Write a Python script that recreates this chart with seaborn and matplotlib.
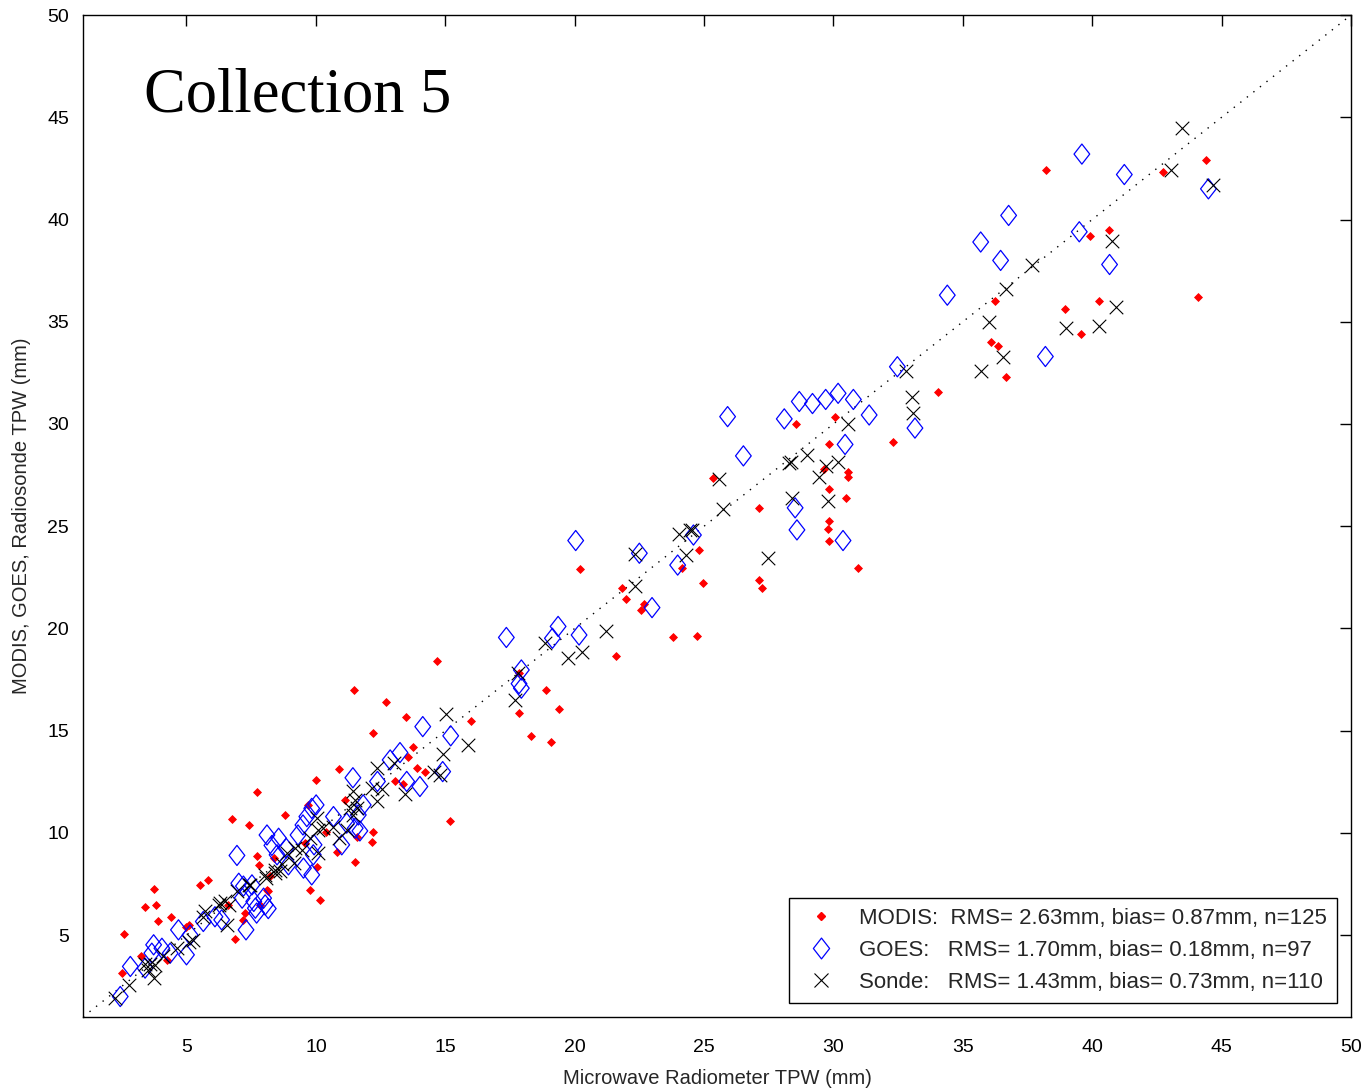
import numpy as np
import pandas as pd
import matplotlib
matplotlib.use("Agg")
import matplotlib.pyplot as plt
from matplotlib.path import Path
from matplotlib.lines import Line2D
import seaborn as sns

# ---------------- data ----------------
modis_x = [38.2, 44.4, 42.75, 39.9, 40.66, 36.24, 38.94, 40.25, 44.07, 39.56, 36.09, 36.35, 36.68, 34.05, 32.3,
           28.57, 30.05, 29.83, 29.64, 30.58, 30.58, 25.36, 29.83, 30.48, 27.13, 29.83, 29.8, 29.83, 30.95, 27.13,
           27.24, 24.95, 24.79, 24.15, 20.22, 21.84, 21.99, 22.67, 22.57, 21.58, 23.79, 24.73, 18.91, 19.38, 17.85,
           18.33, 19.1, 17.85, 14.69, 11.48, 12.7, 13.48, 15.98, 12.22, 10.91, 10.01, 13.76, 13.57, 13.89, 14.21,
           13.06, 13.38, 11.13, 9.68, 12.22, 15.18, 7.72, 6.76, 7.4, 8.82, 10.4, 12.16, 11.6, 10.81, 9.59, 10.04,
           9.78, 10.17, 11.52, 8.39, 7.72, 8.24, 8.11, 5.82, 5.54, 7.27, 7.85, 7.81, 3.73, 3.4, 3.83, 3.88, 4.39,
           2.57, 6.88, 7.17, 6.62, 5.11, 5.0, 3.24, 2.5, 4.24, 8.16]
modis_y = [42.4, 42.9, 42.3, 39.2, 39.5, 36.0, 35.6, 36.0, 36.2, 34.4, 34.0, 33.8, 32.3, 31.55, 29.1,
           30.0, 30.36, 29.0, 27.8, 27.64, 27.43, 27.38, 26.8, 26.37, 25.88, 25.28, 24.87, 24.28, 22.95, 22.37,
           21.97, 22.2, 23.84, 22.98, 22.9, 21.97, 21.43, 21.2, 20.88, 18.63, 19.56, 19.64, 16.97, 16.07, 15.86,
           14.75, 14.47, 17.8, 18.4, 17.0, 16.39, 15.66, 15.48, 14.88, 13.13, 12.6, 14.19, 13.7, 13.2, 12.96,
           12.55, 12.38, 11.62, 11.37, 10.07, 10.59, 12.0, 10.67, 10.39, 10.88, 10.04, 9.58, 9.79, 9.06, 9.5, 8.31,
           7.19, 6.73, 8.6, 8.77, 8.88, 7.87, 7.22, 7.7, 7.46, 6.08, 6.48, 8.41, 7.26, 6.4, 6.48, 5.67, 5.91,
           5.05, 4.82, 5.75, 6.48, 5.5, 5.42, 4.0, 3.14, 3.79, 7.14]

goes_x = [39.6, 41.24, 44.49, 36.77, 35.69, 36.46, 39.5, 40.67, 34.4, 38.19, 32.47, 33.15,
          25.91, 28.1, 28.68, 29.19, 29.7, 30.18, 30.77, 31.38, 30.45, 26.52, 28.52, 28.59, 30.37, 24.59,
          23.98, 20.04, 22.5, 22.99, 19.36, 19.14, 20.17, 17.36, 17.94, 17.85, 17.94,
          14.13, 15.21, 13.25, 12.87, 14.9, 11.43, 12.38, 13.51, 14.02, 11.83, 10.01, 11.64, 11.7,
          9.84, 9.65, 9.5, 10.68, 11.52, 11.0, 9.93, 9.31, 8.85, 8.3, 9.9, 9.84, 8.94, 6.95, 7.53, 7.98,
          7.02, 7.66, 7.15, 8.04, 8.56, 8.5, 9.52, 11.19, 8.11,
          7.3, 7.71, 6.36, 5.65, 4.69, 5.14, 5.0, 4.37, 3.73, 3.66, 3.4, 2.83, 2.44, 4.05, 6.1, 7.2, 8.16, 7.6]
goes_y = [43.2, 42.2, 41.5, 40.2, 38.9, 38.0, 39.4, 37.8, 36.3, 33.3, 32.8, 29.8,
          30.36, 30.25, 31.1, 31.0, 31.2, 31.5, 31.2, 30.44, 29.0, 28.44, 25.9, 24.82, 24.3, 24.57,
          23.1, 24.3, 23.68, 21.02, 20.1, 19.52, 19.68, 19.56, 17.97, 17.3, 17.08,
          15.2, 14.75, 13.93, 13.57, 13.0, 12.7, 12.52, 12.52, 12.27, 11.37, 11.37, 10.88, 10.1,
          11.2, 10.8, 10.39, 10.8, 10.23, 9.42, 9.42, 9.9, 9.25, 9.39, 8.93, 7.95, 8.44, 8.9, 7.46, 6.81,
          7.54, 6.32, 6.81, 6.48, 9.74, 8.93, 8.28, 10.48, 9.9,
          5.26, 6.08, 5.75, 5.67, 5.26, 5.01, 4.04, 4.12, 4.53, 4.12, 3.39, 3.47, 2.0, 4.36, 5.9, 7.4, 6.3, 6.65]

sonde_x = [43.45, 43.04, 44.68, 40.76, 37.67, 36.65, 36.0, 40.93, 38.99, 40.25, 36.56, 35.69, 32.79, 33.05, 33.09,
           30.58, 28.36, 28.3, 28.97, 30.16, 29.73, 29.45, 25.57, 28.38, 29.8, 25.72, 27.48, 24.54, 24.02, 24.44,
           24.3, 22.35, 22.35, 21.2, 18.87, 19.74, 20.28, 17.81, 17.69,
           15.01, 15.88, 14.92, 13.03, 12.35, 14.57, 14.79, 12.55, 13.44, 12.16, 11.45, 11.52, 11.32, 12.35, 11.45,
           10.04, 10.1, 10.29, 10.68, 10.91, 11.19, 11.58, 9.78, 9.46, 9.2, 8.9, 8.69, 9.14, 8.62, 8.43, 8.04,
           7.4, 6.95, 6.5, 5.73, 6.24, 6.63, 10.1,
           2.25, 2.76, 3.4, 3.6, 3.73, 3.79, 4.11, 4.62, 5.08, 5.27, 5.65, 6.3, 6.55, 7.45, 8.07, 8.42, 3.5]
sonde_y = [44.5, 42.4, 41.7, 38.95, 37.8, 36.6, 35.0, 35.7, 34.7, 34.8, 33.3, 32.6, 32.6, 31.3, 30.55,
           30.0, 28.16, 28.1, 28.5, 28.16, 27.97, 27.43, 27.3, 26.4, 26.24, 25.85, 23.43, 24.82, 24.6, 24.82,
           23.6, 23.63, 22.1, 19.88, 19.28, 18.58, 18.84, 17.8, 16.5,
           15.8, 14.28, 13.87, 13.41, 13.17, 12.97, 12.81, 12.15, 11.9, 12.19, 12.03, 11.62, 11.24, 11.54, 10.88,
           10.72, 10.15, 10.23, 10.31, 9.74, 10.15, 11.2, 9.74, 9.17, 9.25, 9.0, 8.47, 8.52, 8.13, 8.03, 7.95,
           7.46, 7.14, 6.65, 6.16, 6.48, 6.48, 9.0,
           1.92, 2.57, 3.58, 3.58, 2.9, 3.55, 3.96, 4.36, 4.69, 4.77, 5.91, 6.56, 5.5, 7.46, 7.79, 8.19, 3.3]

series_labels = ["MODIS:  RMS= 2.63mm, bias= 0.87mm, n=125",
                 "GOES:   RMS= 1.70mm, bias= 0.18mm, n=97",
                 "Sonde:   RMS= 1.43mm, bias= 0.73mm, n=110"]
x_ticks = [5, 10, 15, 20, 25, 30, 35, 40, 45, 50]
y_ticks = [5, 10, 15, 20, 25, 30, 35, 40, 45, 50]
one_to_one = [1, 50]

# ---------------- style ----------------
sns.set_theme(style="white")
plt.rcParams['font.family'] = ['Liberation Sans', 'DejaVu Sans']

df_modis = pd.DataFrame({"mwr": modis_x, "tpw": modis_y})
df_goes = pd.DataFrame({"mwr": goes_x, "tpw": goes_y})
df_sonde = pd.DataFrame({"mwr": sonde_x, "tpw": sonde_y})

tall_diamond = Path([(0, 1), (0.78, 0), (0, -1), (-0.78, 0), (0, 1)],
                    [Path.MOVETO, Path.LINETO, Path.LINETO, Path.LINETO, Path.CLOSEPOLY])

fig = plt.figure(figsize=(13.67, 10.90), dpi=100)
ax = fig.add_axes([0.0607, 0.067, 0.9276, 0.9192])

ax.plot(one_to_one, one_to_one, color="black", linestyle=(0, (1, 5)), linewidth=1.0, zorder=1)

sns.scatterplot(data=df_modis, x="mwr", y="tpw", ax=ax, marker="D", s=16,
                color="#ff0000", edgecolor="#ff0000", linewidth=0.6, zorder=2, legend=False)
sns.scatterplot(data=df_goes, x="mwr", y="tpw", ax=ax, marker=tall_diamond, s=210,
                facecolor="none", edgecolor="#0000ff", linewidth=0.9, zorder=3, legend=False)
sns.scatterplot(data=df_sonde, x="mwr", y="tpw", ax=ax, marker="x", s=95,
                color="black", linewidth=0.8, zorder=4, legend=False)

ax.set_xlim(1, 50)
ax.set_ylim(1, 50)
ax.set_xticks(x_ticks)
ax.set_yticks(y_ticks)
ax.tick_params(direction="in", length=8, width=1.0, top=True, right=True,
               labelsize=14, colors="black")
ax.tick_params(axis="x", pad=16)
ax.tick_params(axis="y", pad=10)
for sp in ax.spines.values():
    sp.set_visible(True)
    sp.set_color("black")
    sp.set_linewidth(1.0)

ax.set_xlabel("Microwave Radiometer TPW (mm)", fontsize=14.5, labelpad=9)
ax.set_ylabel("MODIS, GOES, Radiosonde TPW (mm)", fontsize=14.5, labelpad=12)

ax.text(0.048, 0.919, "Collection 5", transform=ax.transAxes, fontsize=45,
        family=["Liberation Serif", "DejaVu Serif"], ha="left", va="center", color="black")

handles = [
    Line2D([], [], linestyle="none", marker="D", markersize=4, color="#ff0000"),
    Line2D([], [], linestyle="none", marker=tall_diamond, markersize=15,
           markerfacecolor="none", markeredgecolor="#0000ff", markeredgewidth=0.9),
    Line2D([], [], linestyle="none", marker="x", markersize=10, color="black", markeredgewidth=0.8),
]
leg = ax.legend(handles, series_labels, loc="lower right", fontsize=16, frameon=True,
                fancybox=False, edgecolor="black", framealpha=1.0, borderpad=0.45,
                labelspacing=0.5, handletextpad=0.7, handlelength=2.0, borderaxespad=0,
                bbox_to_anchor=(0.9889, 0.014))
leg.get_frame().set_linewidth(1.0)

fig.savefig("out.png", dpi=100, facecolor="white")
